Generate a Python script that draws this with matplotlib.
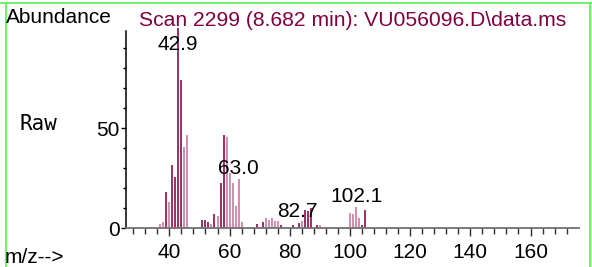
import matplotlib
matplotlib.use('Agg')
import matplotlib.pyplot as plt
from matplotlib.lines import Line2D

# mass spectrum, scan 2299
mz = [37, 38, 39, 40, 41, 42, 43, 44, 45, 46,
      51, 52, 53, 54, 55, 56, 57, 58, 59, 60, 61, 62, 63, 64,
      69, 71, 72, 73, 74, 75, 76, 77,
      81, 83, 84, 85, 86, 87, 89, 90,
      100, 101, 102, 103, 104, 105]
abund = [2, 3, 18, 13, 31.5, 25.5, 100, 74, 40.5, 46.5,
         4, 4, 3, 2, 7, 6, 22.7, 46.5, 45.3, 27.5, 22.7, 11, 24.5, 3,
         1.8, 2.8, 4.8, 4.2, 4.8, 3.3, 3.6, 1.6,
         1.6, 2.7, 3.3, 9, 8.3, 10, 1.6, 1.6,
         7.7, 6.9, 10.5, 5, 1.5, 8.8]
peak_labels = [42.9, 63.0, 82.7, 102.1]
title = 'Scan 2299 (8.682 min): VU056096.D\\data.ms'

# bars that come out paler in the original rendering
pale = {37, 38, 40, 45, 46, 54, 56, 59, 60, 61, 62, 63, 64,
        72, 73, 74, 75, 76, 84, 90, 100, 101, 102, 103}

dark = '#8a0a4c'
light = '#c97aa2'

plt.rcParams['font.family'] = ['Liberation Sans', 'DejaVu Sans']
fig = plt.figure(figsize=(5.92, 2.67), dpi=100)
ax = fig.add_axes([126/592, 1-228/267, (579-126)/592, (228-31)/267])

colors = [light if m in pale else dark for m in mz]
ax.vlines(mz, 0, abund, colors=colors, linewidth=1.2, clip_on=False)

for lab in peak_labels:
    i = min(range(len(mz)), key=lambda k: abs(mz[k] - lab))
    y = min(abund[i] + 2.6, 89)
    ax.text(lab, y, '%.1f' % lab, ha='center', va='baseline', fontsize=15, color='black')

ax.set_xlim(25.6, 176.1)
ax.set_ylim(0, 98.5)
ax.spines['top'].set_visible(False)
ax.spines['right'].set_visible(False)
ax.spines['left'].set_color('black')
ax.spines['bottom'].set_color('#707070')
ax.spines['left'].set_linewidth(1.1)
ax.spines['bottom'].set_linewidth(1.3)

ax.set_xticks(range(40, 161, 20))
ax.set_xticks(range(28, 173, 4), minor=True)
ax.set_yticks([0, 50])
ax.set_yticks(range(10, 91, 10), minor=True)
ax.tick_params(axis='x', which='major', length=6, width=1, color='#303030', labelsize=15, pad=5)
ax.tick_params(axis='x', which='minor', length=4.3, width=1, color='#303030')
ax.tick_params(axis='y', which='major', length=3.5, width=1, color='black', labelsize=15, pad=1)
ax.tick_params(axis='y', which='minor', length=2.2, width=1, color='black')

fig.text(6/592, 1-22.7/267, 'Abundance', fontsize=15, va='baseline', ha='left')
fig.text(352.5/592, 1-25.5/267, title, fontsize=15.2, va='baseline', ha='center', color='#800040')
fig.text(38.5/592, 1-130/267, 'Raw', fontsize=15, va='baseline', ha='center', family='DejaVu Sans Mono')
fig.text(5/592, 1-263/267, 'm/z-->', fontsize=15, va='baseline', ha='left')

# green frame around the panel
green = '#55ee55'
fig.add_artist(Line2D([0, 1], [1-3/267, 1-3/267], transform=fig.transFigure, color=green, lw=1.2))
fig.add_artist(Line2D([6/592, 6/592], [0, 1-3/267], transform=fig.transFigure, color=green, lw=1.2))
fig.add_artist(Line2D([589.5/592, 589.5/592], [0, 1-3/267], transform=fig.transFigure, color=green, lw=1.2))

plt.savefig('out.png', dpi=100)
